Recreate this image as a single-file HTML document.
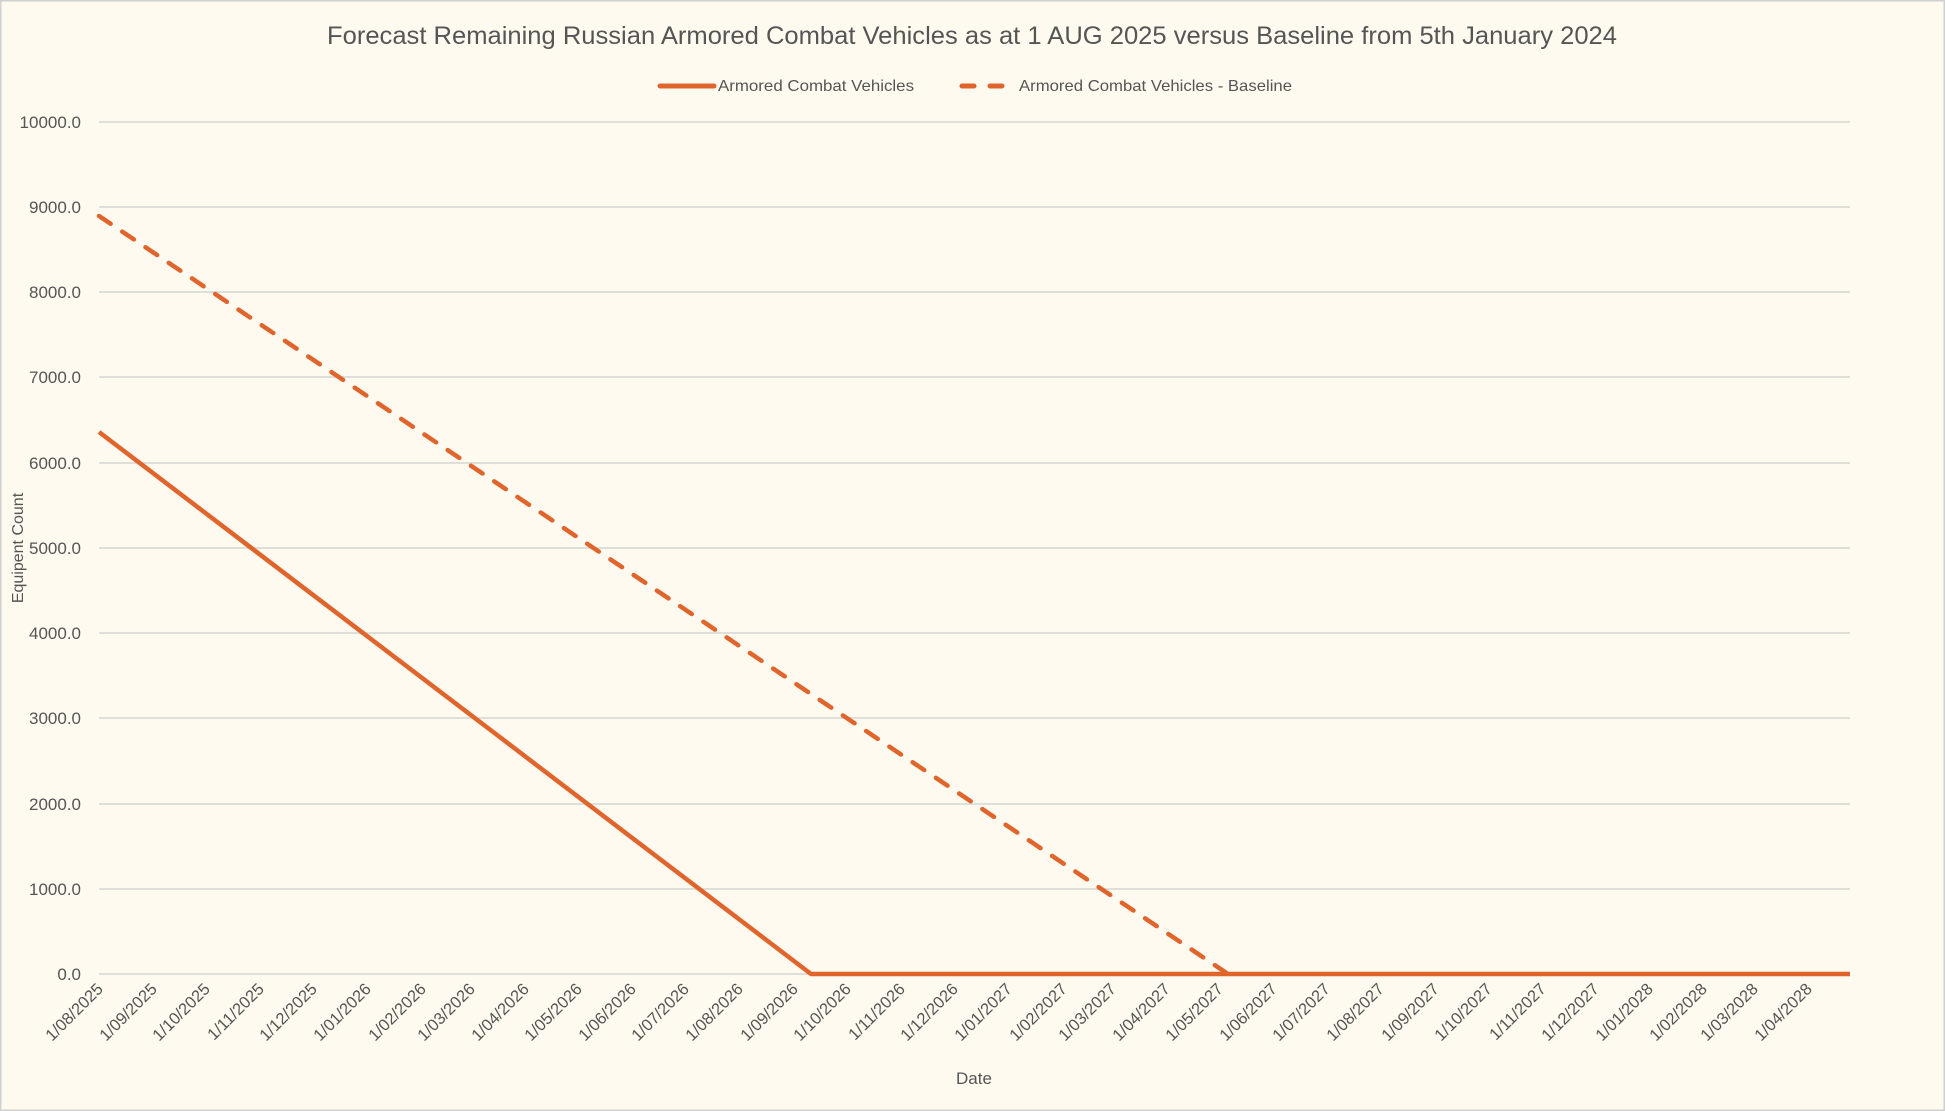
<!DOCTYPE html>
<html><head><meta charset="utf-8"><style>
html,body{margin:0;padding:0;background:#fefaef;}
svg{display:block;font-family:"Liberation Sans",sans-serif;}
</style></head><body>
<svg width="1945" height="1111" viewBox="0 0 1945 1111" xmlns="http://www.w3.org/2000/svg">
<rect x="0.5" y="0.5" width="1944" height="1110" fill="#fefaef" stroke="#d0d0d0" stroke-width="2"/>
<text x="972" y="44" font-size="25" fill="#555" text-anchor="middle" textLength="1290" lengthAdjust="spacingAndGlyphs">Forecast Remaining Russian Armored Combat Vehicles as at 1 AUG 2025 versus Baseline from 5th January 2024</text>
<line x1="660" y1="86" x2="714" y2="86" stroke="#e0652c" stroke-width="5" stroke-linecap="round"/>
<text x="718" y="91" font-size="16" fill="#555" textLength="196" lengthAdjust="spacingAndGlyphs">Armored Combat Vehicles</text>
<line x1="962" y1="86" x2="1016" y2="86" stroke="#e0652c" stroke-width="5" stroke-linecap="round" stroke-dasharray="12,16"/>
<text x="1019" y="91" font-size="16" fill="#555" textLength="273" lengthAdjust="spacingAndGlyphs">Armored Combat Vehicles - Baseline</text>
<g stroke="#d4d4d4" stroke-width="1.5">
<line x1="99" y1="122" x2="1850" y2="122"/><line x1="99" y1="207" x2="1850" y2="207"/><line x1="99" y1="292" x2="1850" y2="292"/><line x1="99" y1="377" x2="1850" y2="377"/><line x1="99" y1="463" x2="1850" y2="463"/><line x1="99" y1="548" x2="1850" y2="548"/><line x1="99" y1="633" x2="1850" y2="633"/><line x1="99" y1="718" x2="1850" y2="718"/><line x1="99" y1="804" x2="1850" y2="804"/><line x1="99" y1="889" x2="1850" y2="889"/><line x1="99" y1="974" x2="1850" y2="974"/>
</g>
<g font-size="17" fill="#555" text-anchor="end">
<text x="81" y="128">10000.0</text><text x="81" y="213">9000.0</text><text x="81" y="298">8000.0</text><text x="81" y="383">7000.0</text><text x="81" y="469">6000.0</text><text x="81" y="554">5000.0</text><text x="81" y="639">4000.0</text><text x="81" y="724">3000.0</text><text x="81" y="810">2000.0</text><text x="81" y="895">1000.0</text><text x="81" y="980">0.0</text>
</g>
<polyline points="99,432 811,974 1850,974" fill="none" stroke="#e0652c" stroke-width="4.5" stroke-linejoin="round"/>
<line x1="99" y1="216" x2="1228" y2="974" stroke="#e0652c" stroke-width="4.5" stroke-linecap="round" stroke-dasharray="14,14"/>
<g font-size="16.5" fill="#555" text-anchor="end">
<text transform="translate(104,990) rotate(-45)">1/08/2025</text>
<text transform="translate(158,990) rotate(-45)">1/09/2025</text>
<text transform="translate(211,990) rotate(-45)">1/10/2025</text>
<text transform="translate(265,990) rotate(-45)">1/11/2025</text>
<text transform="translate(318,990) rotate(-45)">1/12/2025</text>
<text transform="translate(372,990) rotate(-45)">1/01/2026</text>
<text transform="translate(427,990) rotate(-45)">1/02/2026</text>
<text transform="translate(476,990) rotate(-45)">1/03/2026</text>
<text transform="translate(530,990) rotate(-45)">1/04/2026</text>
<text transform="translate(583,990) rotate(-45)">1/05/2026</text>
<text transform="translate(637,990) rotate(-45)">1/06/2026</text>
<text transform="translate(690,990) rotate(-45)">1/07/2026</text>
<text transform="translate(744,990) rotate(-45)">1/08/2026</text>
<text transform="translate(799,990) rotate(-45)">1/09/2026</text>
<text transform="translate(852,990) rotate(-45)">1/10/2026</text>
<text transform="translate(906,990) rotate(-45)">1/11/2026</text>
<text transform="translate(959,990) rotate(-45)">1/12/2026</text>
<text transform="translate(1013,990) rotate(-45)">1/01/2027</text>
<text transform="translate(1068,990) rotate(-45)">1/02/2027</text>
<text transform="translate(1117,990) rotate(-45)">1/03/2027</text>
<text transform="translate(1171,990) rotate(-45)">1/04/2027</text>
<text transform="translate(1224,990) rotate(-45)">1/05/2027</text>
<text transform="translate(1278,990) rotate(-45)">1/06/2027</text>
<text transform="translate(1331,990) rotate(-45)">1/07/2027</text>
<text transform="translate(1385,990) rotate(-45)">1/08/2027</text>
<text transform="translate(1440,990) rotate(-45)">1/09/2027</text>
<text transform="translate(1493,990) rotate(-45)">1/10/2027</text>
<text transform="translate(1547,990) rotate(-45)">1/11/2027</text>
<text transform="translate(1600,990) rotate(-45)">1/12/2027</text>
<text transform="translate(1654,990) rotate(-45)">1/01/2028</text>
<text transform="translate(1708,990) rotate(-45)">1/02/2028</text>
<text transform="translate(1759,990) rotate(-45)">1/03/2028</text>
<text transform="translate(1813,990) rotate(-45)">1/04/2028</text>
</g>
<text x="974" y="1084" font-size="17" fill="#555" text-anchor="middle">Date</text>
<text transform="translate(23,548) rotate(-90)" font-size="16" fill="#555" text-anchor="middle">Equipent Count</text>
</svg>
</body></html>
